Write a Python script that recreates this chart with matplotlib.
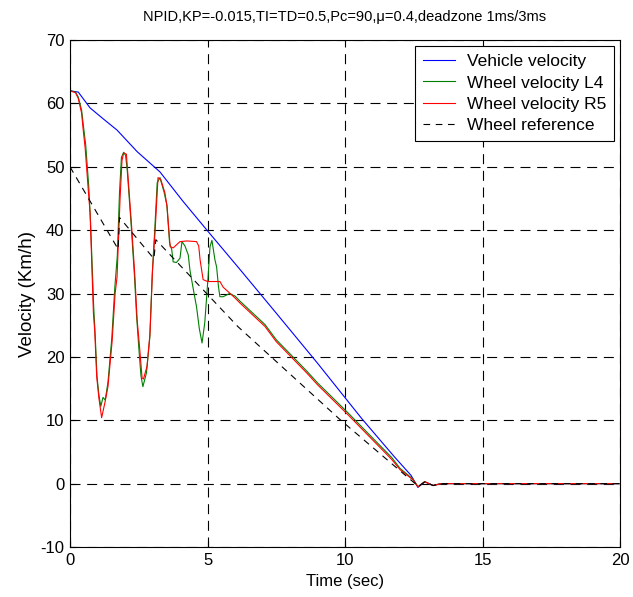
import matplotlib
matplotlib.use("Agg")
import matplotlib.pyplot as plt

plt.rcParams['font.family'] = ['Liberation Sans', 'DejaVu Sans']
plt.rcParams['axes.unicode_minus'] = False

# vehicle velocity (Km/h)
t_veh = [0, 0.3, 0.73, 1.2, 1.71, 2.44, 3.27, 4.1, 4.98, 6.18, 7.5, 9.0, 10.6, 11.8, 12.4, 12.65, 12.9, 13.2, 13.5, 20]
v_veh = [62, 61.8, 59.3, 57.6, 55.8, 52.4, 49.2, 44.6, 40, 33.8, 26.9, 19.0, 10.3, 4.2, 1.3, -0.6, 0.3, -0.3, 0, 0]

# wheel velocity L4
t_l4 = [0, 0.2, 0.3, 0.42, 0.5, 0.57, 0.68, 0.75, 0.86, 0.92, 0.98, 1.05, 1.12, 1.2, 1.28, 1.38,
        1.52, 1.63, 1.72, 1.8, 1.87, 1.95, 2.02, 2.08, 2.22, 2.34, 2.42, 2.5, 2.58, 2.65, 2.78,
        2.9, 2.99, 3.08, 3.17, 3.27, 3.42, 3.52, 3.62, 3.7, 3.75, 3.87, 4.0, 4.07, 4.18, 4.3,
        4.36, 4.47, 4.6, 4.7, 4.8, 4.9, 5.02, 5.09, 5.16, 5.27, 5.33, 5.4, 5.45, 5.57, 5.8,
        6.0, 6.18, 7.09, 7.5, 8.6, 9.0, 10.1, 11.7, 12.0, 12.47, 12.65, 12.9, 13.2, 13.5, 20]
v_l4 = [62, 61.8, 61, 59, 56, 53.5, 47, 41, 28, 23, 17, 14, 12.2, 13.6, 13.2, 16,
        23, 31, 36, 46, 51.5, 52.3, 51.8, 49.5, 41, 33, 26.5, 21.5, 17, 15.3, 17.5,
        23, 33, 40, 47.5, 48.3, 46, 44, 38, 36.9, 35, 34.9, 35.6, 38.2, 37.5, 36.1,
        33.7, 31, 27.9, 24.5, 22.2, 25.4, 32.6, 37.4, 38.4, 35.3, 34.2, 31, 29.5, 29.5, 30,
        29.6, 28.8, 25.1, 22.7, 17.8, 15.9, 11.2, 4.1, 2.4, 0.7, -0.5, 0.3, -0.3, 0, 0]

# wheel velocity R5
t_r5 = [0, 0.2, 0.3, 0.42, 0.48, 0.55, 0.67, 0.73, 0.85, 0.9, 0.97, 1.05, 1.15, 1.27, 1.38,
        1.53, 1.64, 1.71, 1.82, 1.89, 1.95, 2.05, 2.1, 2.25, 2.36, 2.44, 2.52, 2.62, 2.67,
        2.8, 2.91, 3.0, 3.09, 3.2, 3.3, 3.45, 3.53, 3.64, 3.75, 4.0, 4.25, 4.6, 4.68, 4.73,
        4.84, 5.0, 5.45, 5.57, 6.0, 6.18, 7.09, 7.5, 8.6, 9.0, 10.1, 11.7, 12.0, 12.47,
        12.65, 12.9, 13.2, 13.5, 20]
v_r5 = [62, 61.7, 60.8, 58.5, 55.8, 53, 46, 42.7, 27, 24, 16.9, 13.5, 10.4, 12.8, 15.3,
        22.4, 30, 32.6, 45, 51, 52.2, 52, 49, 40, 32.6, 25.9, 22, 16.7, 16.5,
        18.5, 23.8, 33.7, 39.6, 48.3, 48, 45.9, 43.7, 37.4, 37.2, 38.2, 38.3, 38.2, 37.5, 35.3,
        32.2, 31.9, 31.9, 31, 29.3, 28.5, 24.8, 22.4, 17.5, 15.6, 10.9, 3.8, 2.2, 0.6,
        -0.5, 0.3, -0.3, 0, 0]

# wheel reference
t_ref = [0, 1.75, 1.8, 3.05, 3.12, 6.1, 9.82, 12.25, 12.55, 12.65, 12.9, 13.2, 13.5, 20]
v_ref = [50, 37, 42, 35.5, 38.5, 24.8, 10.1, 1.1, 0, -0.5, 0.3, -0.3, 0, 0]

labels = ['Vehicle velocity', 'Wheel velocity L4', 'Wheel velocity R5', 'Wheel reference']

fig = plt.figure(figsize=(6.33, 5.97), dpi=100)
ax = fig.add_axes([0.1106, 0.0838, 0.869, 0.849])

ax.plot(t_veh, v_veh, color='#0000ff', lw=0.8, label=labels[0])
ax.plot(t_l4, v_l4, color='#008000', lw=0.8, label=labels[1])
ax.plot(t_r5, v_r5, color='#ff0000', lw=0.8, label=labels[2])
ax.plot(t_ref, v_ref, color='black', lw=0.8, ls=(0, (6, 5)), label=labels[3])

ax.set_xlim(0, 20)
ax.set_ylim(-10, 70)
ax.set_xticks([0, 5, 10, 15, 20])
ax.set_yticks(range(-10, 71, 10))
ax.grid(True, color='black', lw=0.8, ls=(0, (9, 6)))
ax.tick_params(direction='in', labelsize=12, length=4, pad=4)
for s in ax.spines.values():
    s.set_linewidth(0.8)

ax.set_xlabel('Time (sec)', fontsize=12, labelpad=5)
ax.set_ylabel('Velocity (Km/h)', fontsize=13.5, labelpad=3)
ax.set_title('NPID,KP=-0.015,TI=TD=0.5,Pc=90,\u03bc=0.4,deadzone 1ms/3ms', fontsize=10.5, pad=14)

leg = ax.legend(loc='upper right', fontsize=12.5, fancybox=False, framealpha=1,
                edgecolor='black', handlelength=1.85, handletextpad=0.7,
                borderaxespad=0.35, labelspacing=0.36, borderpad=0.45)
leg.get_frame().set_linewidth(0.8)

fig.savefig('out.png', dpi=100)
